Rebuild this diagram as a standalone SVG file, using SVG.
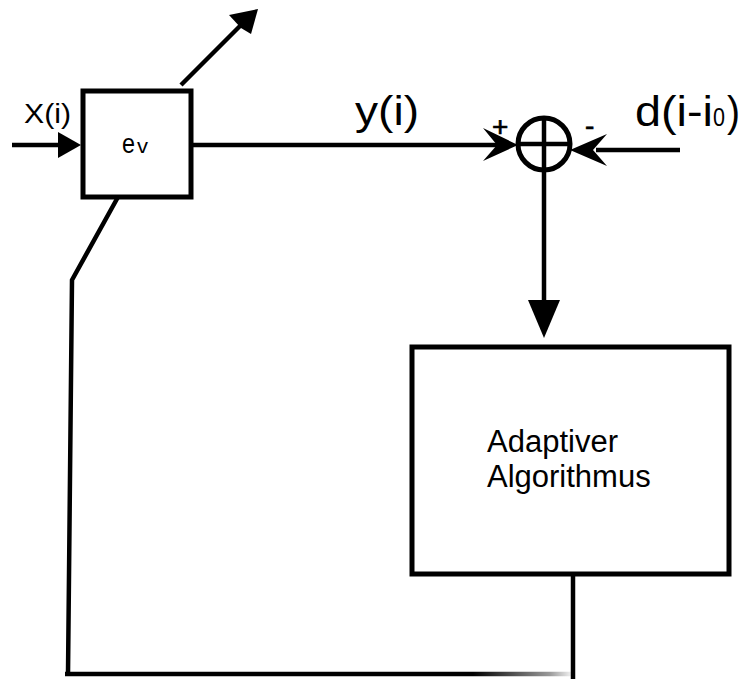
<svg xmlns="http://www.w3.org/2000/svg" width="745" height="679" viewBox="0 0 745 679">
<defs>
<style>
.ln{stroke:#000;stroke-width:4.5;fill:none;}
.bx{stroke:#000;stroke-width:5;fill:#fff;}
.ah{fill:#000;stroke:none;}
.t{font-family:"Liberation Sans",Arial,sans-serif;fill:#000;}
.sg{stroke:#000;stroke-width:0.7;}
</style>
<linearGradient id="fade" x1="65" y1="0" x2="575" y2="0" gradientUnits="userSpaceOnUse">
<stop offset="0" stop-color="#000"/>
<stop offset="0.8" stop-color="#000"/>
<stop offset="0.95" stop-color="#999"/>
<stop offset="1" stop-color="#fff"/>
</linearGradient>
</defs>
<rect width="745" height="679" fill="#fff"/>
<g id="connectors">
<line class="ln" x1="12" y1="145" x2="62" y2="145"/>
<polygon class="ah" points="58,132 81,145 58,158"/>
<line class="ln" x1="181" y1="85" x2="240" y2="26"/>
<polygon class="ah" points="229,15 258,9 251,34 241,28"/>
<line class="ln" x1="193" y1="145" x2="500" y2="145"/>
<polygon class="ah" points="483,128 518,145 483,161 497,145"/>
<line class="ln" x1="680" y1="150" x2="596" y2="150"/>
<polygon class="ah" points="607,134 570,150 607,166 593,150"/>
<line class="ln" x1="544" y1="118" x2="544" y2="305"/>
<polygon class="ah" points="528,300 544,338 560,300"/>
<polyline class="ln" points="118,197 72,280 68,674"/>
<line x1="65" y1="674" x2="575" y2="674" stroke="url(#fade)" stroke-width="4.5"/>
<line class="ln" x1="573" y1="575" x2="573" y2="679"/>
</g>
<g id="node-ev">
<rect class="bx" x="83" y="91" width="108" height="106"/>
<text class="t" x="122" y="153" font-size="28" textLength="13" lengthAdjust="spacingAndGlyphs">e</text>
<text class="t" x="137" y="153" font-size="21" textLength="11" lengthAdjust="spacingAndGlyphs">v</text>
</g>
<g id="node-sum">
<circle cx="544" cy="144" r="26" fill="#fff" stroke="#000" stroke-width="5"/>
<line class="ln" x1="518" y1="144" x2="570" y2="144"/>
<line class="ln" x1="544" y1="118" x2="544" y2="170"/>
</g>
<g id="node-adapt">
<rect class="bx" x="412" y="347" width="317" height="227"/>
<text class="t" x="487" y="452" font-size="31">Adaptiver</text>
<text class="t" x="487" y="487" font-size="31">Algorithmus</text>
</g>
<g id="labels">
<text class="t" x="24" y="123" font-size="27" textLength="47" lengthAdjust="spacingAndGlyphs">X(i)</text>
<text class="t" x="355" y="125" font-size="40" textLength="64" lengthAdjust="spacingAndGlyphs">y(i)</text>
<text class="t sg" x="492" y="136" font-size="28">+</text>
<text class="t sg" x="585" y="135" font-size="28">-</text>
<text class="t" x="635" y="126" font-size="43" textLength="78" lengthAdjust="spacingAndGlyphs">d(i-i</text>
<text class="t" x="713" y="126" font-size="26" textLength="12" lengthAdjust="spacingAndGlyphs">0</text>
<text class="t" x="727" y="126" font-size="43" textLength="13" lengthAdjust="spacingAndGlyphs">)</text>
</g>
</svg>
